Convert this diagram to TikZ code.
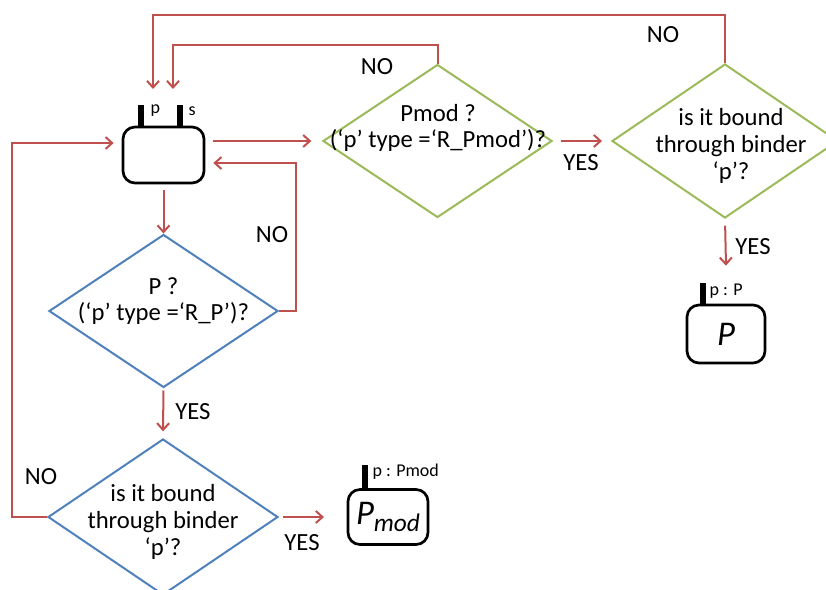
\documentclass[tikz,border=0pt]{standalone}
\usepackage{fontspec}
\setmainfont{Carlito}
\usetikzlibrary{shapes.geometric,arrows.meta}

\definecolor{flowred}{RGB}{192,80,77}
\definecolor{askblue}{RGB}{79,129,189}
\definecolor{askgreen}{RGB}{155,187,89}

\tikzset{every picture/.style={line width=0.75pt}}
\tikzset{
  flow/.style={color=flowred, line width=1.5pt, -{Straight Barb[length=5pt,width=9pt]}},
  ask/.style={diamond, draw, line width=1.5pt, inner sep=0pt},
  agent/.style={rectangle, rounded corners=9pt, draw=black, line width=2pt, inner sep=0pt},
  binder/.style={line width=4.5pt, black},
  txt/.style={inner sep=0.75pt, font=\fontsize{18.5}{20}\selectfont, align=center},
  site/.style={inner sep=0.75pt, font=\fontsize{13.5}{15}\selectfont, anchor=west},
}

\begin{document}
\begin{tikzpicture}[x=0.75pt,y=0.75pt,yscale=-1,xscale=1]
\useasboundingbox (0,0) rectangle (826,590);

%Shape: Agent with binders p and s
\draw (163.5,155) node (start) [agent, minimum width=60.75pt, minimum height=42pt] {};
\draw[binder] (141,105) -- (141,127);
\draw[binder] (180,105) -- (180,127);
\draw (149,111) node (siteP) [site] {p};
\draw (187,111) node (siteS) [site] {s};

%Shape: Diamond P ?
\draw (163.5,311) node (askP) [ask, draw=askblue, minimum width=171.75pt, minimum height=114.75pt] {};
\draw (163.5,301) node (txtP) [txt] {P ?\\(‘p’ type =‘R\_P’)?};
%Shape: Diamond bound (P)
\draw (163,517) node (askPb) [ask, draw=askblue, minimum width=172.5pt, minimum height=117pt] {};
\draw (163,522) node (txtPb) [txt] {is it bound\\through binder\\‘p’?};
%Shape: Diamond Pmod ?
\draw (437.5,141) node (askPmod) [ask, draw=askgreen, minimum width=171.75pt, minimum height=114.75pt] {};
\draw (438,128) node (txtPmod) [txt] {Pmod ?\\(‘p’ type =‘R\_Pmod’)?};
%Shape: Diamond bound (Pmod)
\draw (725,141) node (askPmodb) [ask, draw=askgreen, minimum width=169.5pt, minimum height=115.5pt] {};
\draw (731,146) node (txtPmodb) [txt] {is it bound\\through binder\\‘p’?};

%Shape: Agent P
\draw (726,334) node (boxP) [agent, minimum width=58.5pt, minimum height=43.5pt, font=\fontsize{26}{28}\selectfont\itshape] {P};
\draw[binder] (703,283) -- (703,305);
\draw (708,291) node (siteBoxP) [site] {p : P};
%Shape: Agent Pmod
\draw (388,517) node (boxPmod) [agent, minimum width=60pt, minimum height=41.25pt, font=\fontsize{26}{28}\selectfont\itshape] {P\raisebox{-5pt}{\fontsize{19}{20}\selectfont mod}};
\draw[binder] (365,465) -- (365,489.5);
\draw (371,472) node (siteBoxPmod) [site] {p : Pmod};

\coordinate (pIn) at (153,89);
\coordinate (sIn) at (173,89);

%Straight Lines (yshift follows yscale=-1 here)
\draw[flow, shorten <=4pt] (start.south) -- (askP.north);
\draw[flow] (askP.east) -- ++(17,0) |- ([xshift=6pt,yshift=6pt]start.east);
\draw[flow, shorten <=1.5pt] (askP.south) -- ([yshift=-5pt]askPb.north);
\draw[flow, shorten <=3pt] (askPb.east) -- ([xshift=-17pt]boxPmod.west);
\draw[flow] (askPb.west) -- ++(-35,0) |- ([xshift=-6pt,yshift=-9pt]start.west);
\draw[flow] ([xshift=6pt,yshift=-10.5pt]start.east) -- ([xshift=-8pt]askPmod.west);
\draw[flow] (askPmod.north) -- ++(0,-19) -| (sIn);
\draw[flow, shorten <=6pt, shorten >=6.75pt] (askPmod.east) -- (askPmodb.west);
\draw[flow] (askPmodb.north) -- ++(0,-48) -| (pIn);
\draw[flow, shorten <=5pt] (askPmodb.south) -- ([yshift=-28.5pt]boxP.north);

% Text Node
\draw (272,235) node (noP) [txt] {NO};
% Text Node
\draw (193,412) node (yesP) [txt] {YES};
% Text Node
\draw (41,477) node (noPb) [txt] {NO};
% Text Node
\draw (302,543) node (yesPb) [txt] {YES};
% Text Node
\draw (377,67) node (noPmod) [txt] {NO};
% Text Node
\draw (581,163) node (yesPmod) [txt] {YES};
% Text Node
\draw (663,35) node (noPmodb) [txt] {NO};
% Text Node
\draw (753,247) node (yesPmodb) [txt] {YES};

\end{tikzpicture}
\end{document}
